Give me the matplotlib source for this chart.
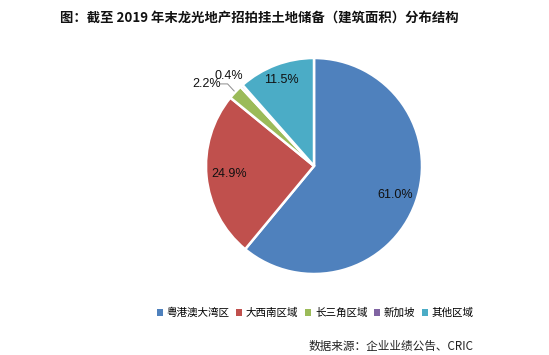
import numpy as np
import matplotlib
matplotlib.use("Agg")
import matplotlib.pyplot as plt
from matplotlib.patches import Patch

plt.rcParams["font.family"] = ["Noto Sans CJK SC", "DejaVu Sans"]

# data
regions = ["粤港澳大湾区", "大西南区域", "长三角区域", "新加坡", "其他区域"]
shares = [61.0, 24.9, 2.2, 0.4, 11.5]
colors = ["#4F81BD", "#C0504D", "#9BBB59", "#8064A2", "#4BACC6"]
title = "图：截至 2019 年末龙光地产招拍挂土地储备（建筑面积）分布结构"
source = "数据来源：企业业绩公告、CRIC"

W, H = 549, 355
cx, cy, R = 314, 166, 108

fig = plt.figure(figsize=(W / 100, H / 100), dpi=100)
ax = fig.add_axes([0, 0, 1, 1])

wedges, _ = ax.pie(shares, colors=colors, startangle=90, counterclock=False,
                   radius=1, wedgeprops=dict(edgecolor="white", linewidth=1.8))
ax.set_xlim(-cx / R, (W - cx) / R)
ax.set_ylim(-(H - cy) / R, cy / R)
ax.set_aspect("equal")
ax.axis("off")

lab_font = dict(family=["Liberation Sans", "DejaVu Sans"], fontsize=9, color="#111111")
inside_dist = {0: 0.8, 1: 0.79, 4: 0.85}
for i, w in enumerate(wedges):
    mid = np.deg2rad((w.theta1 + w.theta2) / 2)
    txt = f"{shares[i]:.1f}%"
    if i in inside_dist:
        d = inside_dist[i]
        ax.text(d * np.cos(mid), d * np.sin(mid), txt, ha="center", va="center", **lab_font)

# small slices labelled outside
g = wedges[2]
gm = np.deg2rad((g.theta1 + g.theta2) / 2)
ax.text(-0.995, 0.76, f"{shares[2]:.1f}%", ha="center", va="center", **lab_font)
# leader: short horizontal run, then down to the wedge edge
ax.plot([-0.87, -0.80, np.cos(gm) * 1.01], [0.76, 0.76, np.sin(gm) * 1.01],
        color="#8c8c8c", lw=0.7, solid_capstyle="butt")
ax.text(-0.79, 0.83, f"{shares[3]:.1f}%", ha="center", va="center", **lab_font)

fig.text(0.472, 0.949, title, ha="center", va="center", fontsize=9.6,
         fontweight="bold", color="#111111")

handles = [Patch(facecolor=c, edgecolor="none") for c in colors]
fig.legend(handles, regions, loc="center", bbox_to_anchor=(0.574, 0.118), ncol=5,
           frameon=False, fontsize=7.6, handlelength=0.6, handleheight=0.6,
           handletextpad=0.35, columnspacing=0.6)

fig.text(0.862, 0.023, source, ha="right", va="center", fontsize=8.4, color="#222222")

fig.savefig("out.png", dpi=100, facecolor="white")
